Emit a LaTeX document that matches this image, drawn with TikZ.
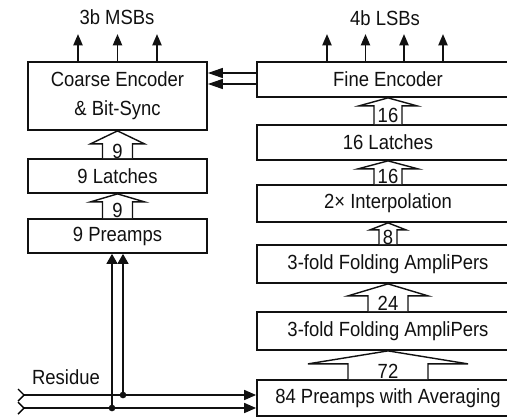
\documentclass[tikz,border=0pt]{standalone}
\usepackage{fontspec}
\setmainfont[FakeStretch=0.9]{Liberation Sans}
\usepackage{tikz}
\usetikzlibrary{positioning,arrows.meta,calc}
\definecolor{ink}{HTML}{111111}
\tikzset{
  every node/.style={font=\fontsize{17.5}{25}\selectfont, text=ink},
  box/.style={
    rectangle, draw=ink, fill=white, line width=1.5pt,
    inner sep=0pt, align=center
  },
  lbox/.style={box, minimum width=5.37cm, minimum height=1.02cm},
  rbox/.style={box, minimum width=7.86cm, minimum height=1.05cm},
  busline/.style={draw=ink, fill=white, line width=1.2pt, line join=miter},
  outarrow/.style={-{Triangle[length=0.34cm,width=0.28cm]}, line width=1.2pt, draw=ink},
  syncarrow/.style={-{Triangle[length=0.45cm,width=0.3cm]}, line width=1.2pt, draw=ink},
  resline/.style={-{Triangle[length=0.36cm,width=0.3cm]}, line width=1.4pt, draw=ink},
  taparrow/.style={-{Triangle[length=0.3cm,width=0.33cm]}, line width=1.2pt, draw=ink},
}
% bus arrow: lower node, upper node, stem, wing, head depth, width label
\newcommand{\busarrow}[6]{%
  \draw[busline] ($(#1.north)+(-#3,0)$) -- ($(#2.south)+(-#3,#5)$)
    -- ($(#2.south)+(-#4,#5)$) -- (#2.south) -- ($(#2.south)+(#4,#5)$)
    -- ($(#2.south)+(#3,#5)$) -- ($(#1.north)+(#3,0)$);
  \path (#1.north) -- ($(#2.south)+(0,#5)$) node[midway, inner sep=0pt] {#6};
}

\begin{document}
\begin{tikzpicture}[x=0.03cm, y=-0.03cm]
  \useasboundingbox (0,0) rectangle (507,419);
  \clip (0,0) rectangle (507,419);

  % coarse path
  \node[lbox, minimum height=2.04cm] (coarse) at (117.5,96) {Coarse Encoder\\ \& Bit-Sync};
  \node[lbox] (latch9) at (117.5,176) {9 Latches};
  \node[lbox] (pre9) at (117.5,236) {9 Preamps};

  % fine path
  \node[rbox] (fine) at (388,79.5) {Fine Encoder};
  \node[rbox] (latch16) at (388,142.5) {16 Latches};
  \node[rbox, minimum height=1.11cm] (interp) at (388,203.5) {2× Interpolation};
  \node[rbox, minimum height=1.14cm] (fold1) at (388,264) {3-fold Folding AmpliPers};
  \node[rbox, minimum height=1.14cm] (fold2) at (388,331) {3-fold Folding AmpliPers};
  \node[rbox, minimum height=1.08cm] (pre84) at (388,398) {84 Preamps with Averaging};

  \busarrow{latch9}{coarse}{15}{27}{13}{9}
  \busarrow{pre9}{latch9}{15}{27}{8}{9}
  \busarrow{latch16}{fine}{14}{29}{8}{16}
  \busarrow{interp}{latch16}{14}{30}{8}{16}
  \busarrow{fold1}{interp}{9}{18}{7}{8}
  \busarrow{fold2}{fold1}{20}{40}{12}{24}
  \busarrow{pre84}{fold2}{40}{80}{13}{72}

  % outputs
  \node (msb) at (117,17) {3b MSBs};
  \node (lsb) at (385,18) {4b LSBs};
  \foreach \dx in {-39.5,0,39.5}
    \draw[outarrow] ($(coarse.north)+(\dx,0)$) -- ++(0,-27);
  \foreach \dx in {-61,-22.5,16,55}
    \draw[outarrow] ($(fine.north)+(\dx,0)$) -- ++(0,-27);

  % bit-sync from fine to coarse
  \coordinate (syncA) at ($(fine.west)+(0,-6.5)$);
  \coordinate (syncB) at ($(fine.west)+(0,4.5)$);
  \draw[syncarrow] (syncA) -- (syncA -| coarse.east);
  \draw[syncarrow] (syncB) -- (syncB -| coarse.east);

  % residue input
  \node (residue) at (66,377) {Residue};
  \coordinate (resA) at (24,395);
  \coordinate (resB) at (24,408);
  \draw[resline] (resA) -- (resA -| pre84.west);
  \draw[resline] (resB) -- (resB -| pre84.west);
  \draw[line width=1.2pt] ($(resA)+(-6,-6)$) -- (resA) -- ($(resA)+(-6,6)$);
  \draw[line width=1.2pt] ($(resB)+(-6,-6)$) -- (resB) -- ($(resB)+(-6,6)$);
  \coordinate (tapA) at (123,395);
  \coordinate (tapB) at (112,408);
  \draw[taparrow] (tapA) -- (tapA |- pre9.south);
  \draw[taparrow] (tapB) -- (tapB |- pre9.south);
  \fill[ink] (tapA) circle (0.1cm);
  \fill[ink] (tapB) circle (0.1cm);
\end{tikzpicture}
\end{document}
